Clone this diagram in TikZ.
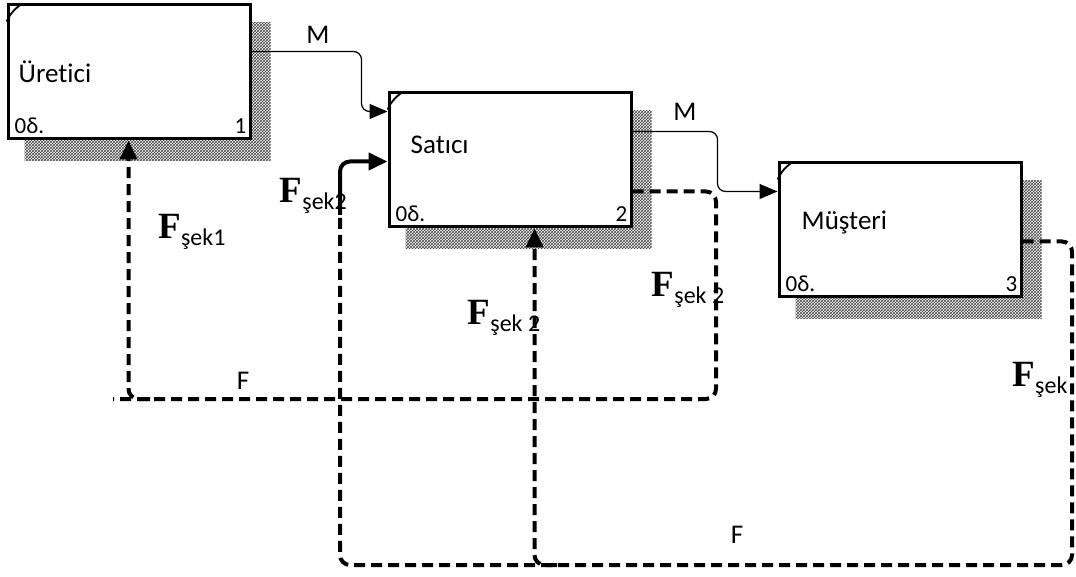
\documentclass[tikz,border=0pt]{standalone}
\usepackage{fontspec}
\setmainfont{Liberation Serif}
\setsansfont[Ligatures=NoCommon]{Carlito}
\usetikzlibrary{positioning,arrows.meta,patterns,backgrounds}

% bold F with a sans subscript
\newcommand{\Fsek}[1]{{\fontsize{37}{37}\selectfont\rmfamily\bfseries F}\raisebox{-7pt}{\fontsize{24}{24}\selectfont\sffamily #1}}

\begin{document}
\begin{tikzpicture}[
    x=1pt, y=-1pt,
    font=\sffamily,
    every node/.style={inner sep=1pt},
    actbox/.style={rectangle, draw, line width=3pt, fill=white, minimum width=242pt, minimum height=134pt, inner sep=0pt},
    boxname/.style={font=\fontsize{27}{32}\selectfont\sffamily, anchor=west},
    boxnum/.style={font=\fontsize{23}{27}\selectfont\sffamily},
    flowlbl/.style={font=\fontsize{27}{32}\selectfont\sffamily},
    hatch/.style={pattern=crosshatch, pattern color=black!75},
    mflow/.style={line width=1.2pt, rounded corners=8pt, -{Triangle[length=18pt,width=15pt]}},
    fflow/.style={line width=4pt, dash pattern=on 11pt off 6pt, rounded corners=10pt},
    fsolid/.style={line width=4pt, rounded corners=10pt},
    ftip/.style={-{Triangle[length=19pt,width=17pt]}}
]
\useasboundingbox (0,0) rectangle (1076,577);

% =========================================================
% Activity boxes
% =========================================================
\node[actbox] (b1) at (129,72)  {};
\node[actbox] (b2) at (510,160) {};
\node[actbox] (b3) at (900,230) {};

\begin{scope}[on background layer]
  \foreach \b in {b1,b2,b3}
    \fill[hatch] ([shift={(18pt,-19pt)}]\b.north west) rectangle ([shift={(19pt,-20pt)}]\b.south east);
\end{scope}

\foreach \b in {b1,b2,b3}
  \draw[line width=1.8pt] ([yshift=-18pt]\b.north west) to[bend left=15] ([xshift=16pt]\b.north west);

\node[boxname] (n1) at ([xshift=11pt]b1.west)               {Üretici};
\node[boxname] (n2) at ([shift={(22pt,15pt)}]b2.west)       {Satıcı};
\node[boxname] (n3) at ([shift={(23pt,8pt)}]b3.west)        {Müşteri};

\node[boxnum, anchor=south west] (c1) at ([shift={(7pt,6pt)}]b1.south west)  {0δ.};
\node[boxnum, anchor=south east] (d1) at ([shift={(-4pt,6pt)}]b1.south east) {1};
\node[boxnum, anchor=south west] (c2) at ([shift={(7pt,6pt)}]b2.south west)  {0δ.};
\node[boxnum, anchor=south east] (d2) at ([shift={(-4pt,6pt)}]b2.south east) {2};
\node[boxnum, anchor=south west] (c3) at ([shift={(7pt,6pt)}]b3.south west)  {0δ.};
\node[boxnum, anchor=south east] (d3) at ([shift={(-4pt,6pt)}]b3.south east) {3};

% =========================================================
% Labels
% =========================================================
\node[flowlbl] (lm1) at (318,35)  {M};
\node[flowlbl] (lm2) at (685,112) {M};
\node[flowlbl] (lf1) at (243,381) {F};
\node[flowlbl] (lf2) at (737,535) {F};

\node (fl1) at (192,232)              {\Fsek{şek1}};
\node[anchor=east] (fl2) at (348,196) {\Fsek{şek2}};
\node (fl3) at (504,318)              {\Fsek{şek 2}};
\node (fl4) at (688,290)              {\Fsek{şek 2}};
\node (fl5) at (1040,380)             {\Fsek{şek}};

% =========================================================
% M flows
% =========================================================
\draw[mflow] ([yshift=-48pt]b1.north east) -| ([shift={(-26pt,-20pt)}]b2.north west) -- ([yshift=-20pt]b2.north west);
\draw[mflow] ([yshift=-40pt]b2.north east) -| ([shift={(-60pt,-30pt)}]b3.north west) -- ([yshift=-30pt]b3.north west);

% =========================================================
% F flows
% =========================================================
\coordinate (fw)  at (113,399);
\coordinate (fe)  at (716,399);
\coordinate (fj1) at (150,399);
\coordinate (fbr) at (1072,565);
\coordinate (fbl) at (340,565);
\coordinate (fup) at (340,215);
\coordinate (fj2) at (557,565);

\draw[fflow] ([yshift=-100pt]b2.north east) -| (fe) -- (fw);
\draw[fflow, ftip] (fj1) -| ([xshift=122pt]b1.south west);

\draw[fflow] ([yshift=-80pt]b3.north east) -| (fbr) -- (fbl) -- (fup);
\draw[fsolid, ftip] (fup) |- ([yshift=-70pt]b2.north west);
\draw[fflow, ftip] (fj2) -| ([xshift=147pt]b2.south west);

\end{tikzpicture}
\end{document}
